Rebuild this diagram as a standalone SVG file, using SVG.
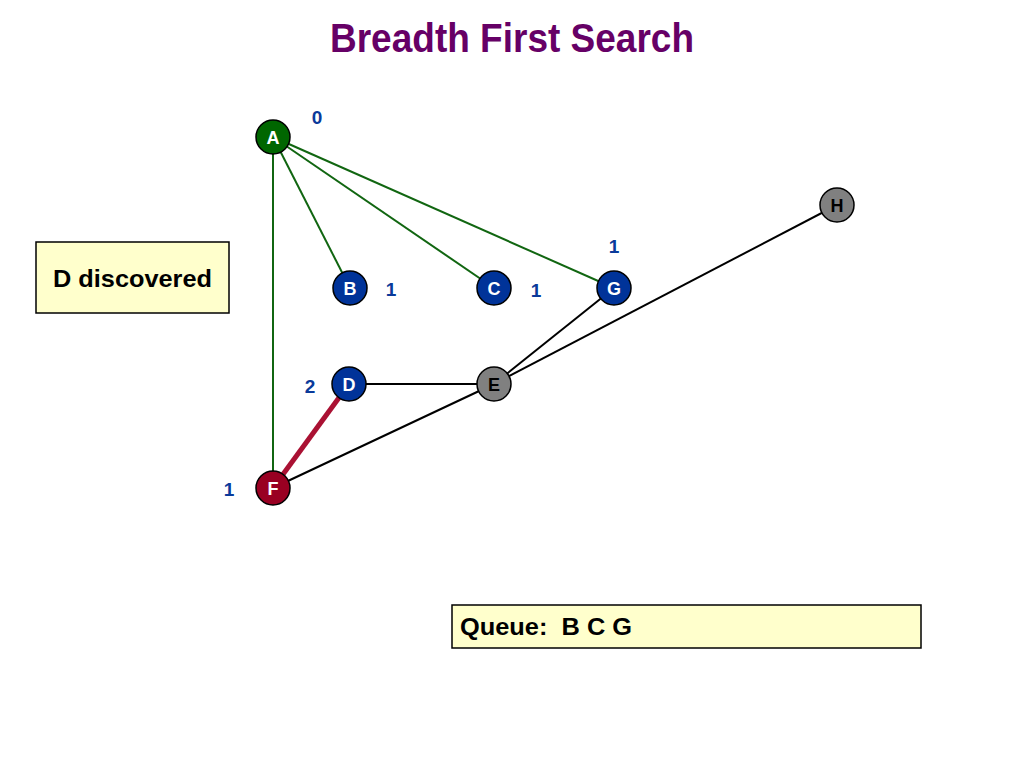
<svg xmlns="http://www.w3.org/2000/svg" width="1024" height="768" viewBox="0 0 1024 768">
<style>
.node circle{stroke:#000;stroke-width:1.5}
.node text{font-family:"Liberation Sans",Arial,sans-serif;font-weight:bold;font-size:18px;fill:#fff;text-anchor:middle}
.lbl{font-family:"Liberation Sans",Arial,sans-serif;font-weight:bold;font-size:19px;fill:#0a3a9a;text-anchor:middle}
.box rect{fill:#ffffcc;stroke:#000;stroke-width:1.5}
.box text{font-family:"Liberation Sans",Arial,sans-serif;font-weight:bold;font-size:24px;fill:#000}
.green{stroke:#116611;stroke-width:2}
.black{stroke:#000;stroke-width:2}
.red{stroke:#aa1133;stroke-width:5}
</style>
<rect width="1024" height="768" fill="#fff"/>
<text x="512" y="52" text-anchor="middle" font-family="Liberation Sans, Arial, sans-serif" font-weight="bold" font-size="40" fill="#660066" textLength="364" lengthAdjust="spacingAndGlyphs">Breadth First Search</text>
<g id="connectors">
<line class="green" x1="273" y1="137" x2="350" y2="288"/>
<line class="green" x1="273" y1="137" x2="494" y2="288"/>
<line class="green" x1="273" y1="137" x2="614" y2="288"/>
<line class="green" x1="273" y1="137" x2="273" y2="488"/>
<line class="black" x1="349" y1="384" x2="494" y2="384"/>
<line class="black" x1="614" y1="288" x2="494" y2="384"/>
<line class="black" x1="837" y1="205" x2="494" y2="384"/>
<line class="black" x1="273" y1="488" x2="494" y2="384"/>
<line class="red" x1="273" y1="488" x2="349" y2="384"/>
</g>
<g id="node-A" class="node"><circle cx="273" cy="137" r="17" fill="#006600"/><text x="273" y="143.5">A</text></g>
<g id="node-B" class="node"><circle cx="350" cy="288" r="17" fill="#003399"/><text x="350" y="294.5">B</text></g>
<g id="node-C" class="node"><circle cx="494" cy="288" r="17" fill="#003399"/><text x="494" y="294.5">C</text></g>
<g id="node-G" class="node"><circle cx="614" cy="288" r="17" fill="#003399"/><text x="614" y="294.5">G</text></g>
<g id="node-H" class="node"><circle cx="837" cy="205" r="17" fill="#808080"/><text x="837" y="211.5" style="fill:#000">H</text></g>
<g id="node-D" class="node"><circle cx="349" cy="384" r="17" fill="#003399"/><text x="349" y="390.5">D</text></g>
<g id="node-E" class="node"><circle cx="494" cy="384" r="17" fill="#808080"/><text x="494" y="390.5" style="fill:#000">E</text></g>
<g id="node-F" class="node"><circle cx="273" cy="488" r="17" fill="#990022"/><text x="273" y="494.5">F</text></g>
<g id="labels">
<text class="lbl" x="317" y="124">0</text>
<text class="lbl" x="614" y="253">1</text>
<text class="lbl" x="391" y="296">1</text>
<text class="lbl" x="536" y="297">1</text>
<text class="lbl" x="310" y="393">2</text>
<text class="lbl" x="229" y="496">1</text>
</g>
<g id="status" class="box"><rect x="36" y="242" width="193" height="71"/><text x="132.5" y="287" text-anchor="middle" textLength="159" lengthAdjust="spacingAndGlyphs">D discovered</text></g>
<g id="queue" class="box"><rect x="452" y="605" width="469" height="43"/><text x="460" y="635" xml:space="preserve" textLength="172" lengthAdjust="spacingAndGlyphs">Queue:  B C G</text></g>
</svg>
